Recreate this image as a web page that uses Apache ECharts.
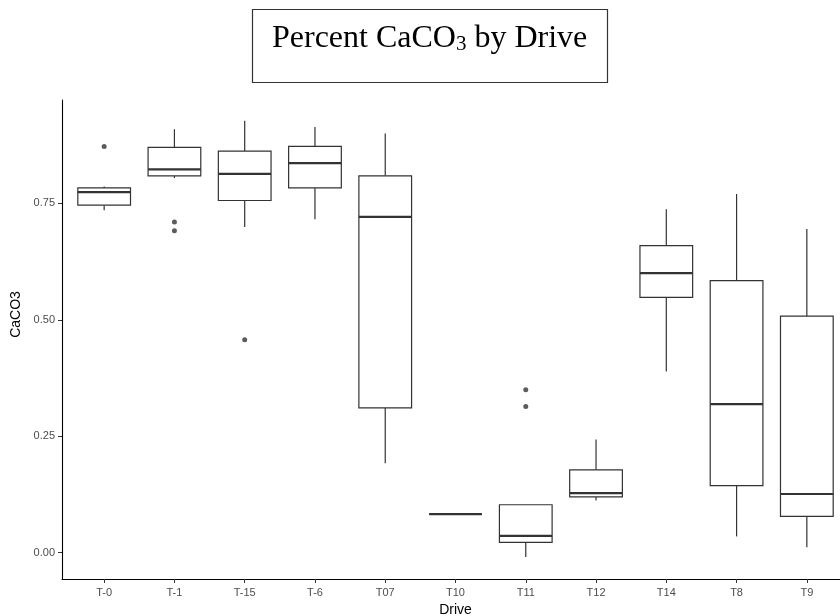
<!DOCTYPE html>
<html>
<head>
<meta charset="utf-8">
<script src="https://cdn.jsdelivr.net/npm/echarts@6/dist/echarts.min.js"></script>
<style>html,body{margin:0;padding:0;background:#fff}#chart{width:840px;height:616px}</style>
</head>
<body>
<div id="chart"></div>
<script>
const categories = ['T-0', 'T-1', 'T-15', 'T-6', 'T07', 'T10', 'T11', 'T12', 'T14', 'T8', 'T9'];
const whiskerLow  = [0.735, 0.804, 0.699, 0.716, 0.192, 0.083, -0.009, 0.112, 0.389, 0.035, 0.012];
const q1          = [0.746, 0.809, 0.756, 0.783, 0.311, 0.083, 0.022, 0.120, 0.548, 0.144, 0.078];
const median      = [0.774, 0.823, 0.813, 0.836, 0.721, 0.083, 0.036, 0.128, 0.600, 0.319, 0.126];
const q3          = [0.783, 0.870, 0.862, 0.872, 0.809, 0.083, 0.103, 0.178, 0.659, 0.584, 0.508];
const whiskerHigh = [0.786, 0.909, 0.927, 0.914, 0.900, 0.083, 0.103, 0.243, 0.737, 0.770, 0.695];
const outlierDrive = ['T-0', 'T-1', 'T-1', 'T-15', 'T11', 'T11'];
const outlierValue = [0.872, 0.710, 0.691, 0.457, 0.350, 0.314];
const yTicks = [0, 0.25, 0.5, 0.75];

const boxData = categories.map((c, i) => [i, whiskerLow[i], q1[i], median[i], q3[i], whiskerHigh[i]]);
const outlierData = outlierDrive.map((d, i) => [categories.indexOf(d), outlierValue[i]]);
const xTicks = categories.map((c, i) => i);

function renderBox(params, api) {
  const x = api.value(0);
  const lo = api.coord([x, api.value(1)]);
  const b1 = api.coord([x, api.value(2)]);
  const md = api.coord([x, api.value(3)]);
  const b3 = api.coord([x, api.value(4)]);
  const hi = api.coord([x, api.value(5)]);
  const w = api.size([0.75, 0])[0];
  const half = w / 2;
  const cx = lo[0];
  const st = { stroke: '#333333', lineWidth: 1.2, fill: null };
  return {
    type: 'group',
    children: [
      { type: 'line', shape: { x1: cx, y1: hi[1], x2: cx, y2: b3[1] }, style: st },
      { type: 'line', shape: { x1: cx, y1: b1[1], x2: cx, y2: lo[1] }, style: st },
      { type: 'rect', shape: { x: cx - half, y: b3[1], width: w, height: b1[1] - b3[1] },
        style: { fill: '#ffffff', stroke: '#333333', lineWidth: 1.2 } },
      { type: 'line', shape: { x1: cx - half, y1: md[1], x2: cx + half, y2: md[1] },
        style: { stroke: '#333333', lineWidth: 2.2 } }
    ]
  };
}

const chart = echarts.init(document.getElementById('chart'), null, { renderer: 'canvas' });
chart.setOption({
  animation: false,
  backgroundColor: '#ffffff',
  title: {
    text: '{a|Percent CaCO}{s|3}{a| by Drive}',
    left: 252,
    top: 9,
    padding: [14, 20, 28, 20],
    borderColor: '#333333',
    borderWidth: 1.2,
    textStyle: {
      fontWeight: 'normal',
      rich: {
        a: { fontFamily: 'Liberation Serif', fontSize: 32, fontWeight: 'normal', color: '#000000' },
        s: { fontFamily: 'Liberation Serif', fontSize: 21, fontWeight: 'normal', color: '#000000', verticalAlign: 'bottom' }
      }
    }
  },
  grid: { left: 62, top: 100, width: 787, height: 479, containLabel: false, outerBoundsMode: 'none' },
  xAxis: {
    type: 'value',
    min: -0.6,
    max: 10.6,
    name: 'Drive',
    nameLocation: 'middle',
    nameGap: 18,
    nameTextStyle: { fontFamily: 'Liberation Sans', fontSize: 14, color: '#000000' },
    splitLine: { show: false },
    axisLine: { show: true, onZero: false, lineStyle: { color: '#000000', width: 1.1 } },
    axisTick: { show: true, length: 4, customValues: xTicks, lineStyle: { color: '#333333', width: 1 } },
    axisLabel: {
      customValues: xTicks,
      margin: 8,
      fontFamily: 'Liberation Sans', fontSize: 11, color: '#4d4d4d',
      formatter: v => categories[Math.round(v)]
    }
  },
  yAxis: {
    type: 'value',
    min: -0.0564,
    max: 0.9717,
    name: 'CaCO3',
    nameLocation: 'middle',
    nameGap: 28,
    nameRotate: 90,
    nameTextStyle: { fontFamily: 'Liberation Sans', fontSize: 14, color: '#000000', padding: [0, 0, 0, 50] },
    splitLine: { show: false },
    axisLine: { show: true, onZero: false, lineStyle: { color: '#000000', width: 1.1 } },
    axisTick: { show: true, length: 4, customValues: yTicks, lineStyle: { color: '#333333', width: 1 } },
    axisLabel: {
      customValues: yTicks,
      margin: 7,
      fontFamily: 'Liberation Sans', fontSize: 11, color: '#4d4d4d',
      formatter: v => v.toFixed(2)
    }
  },
  series: [
    {
      type: 'custom',
      renderItem: renderBox,
      data: boxData,
      encode: { x: 0, y: [1, 2, 3, 4, 5] },
      z: 2
    },
    {
      type: 'scatter',
      data: outlierData,
      symbol: 'circle',
      symbolSize: 5,
      itemStyle: { color: '#333333' },
      z: 3
    }
  ]
});
</script>
</body>
</html>
